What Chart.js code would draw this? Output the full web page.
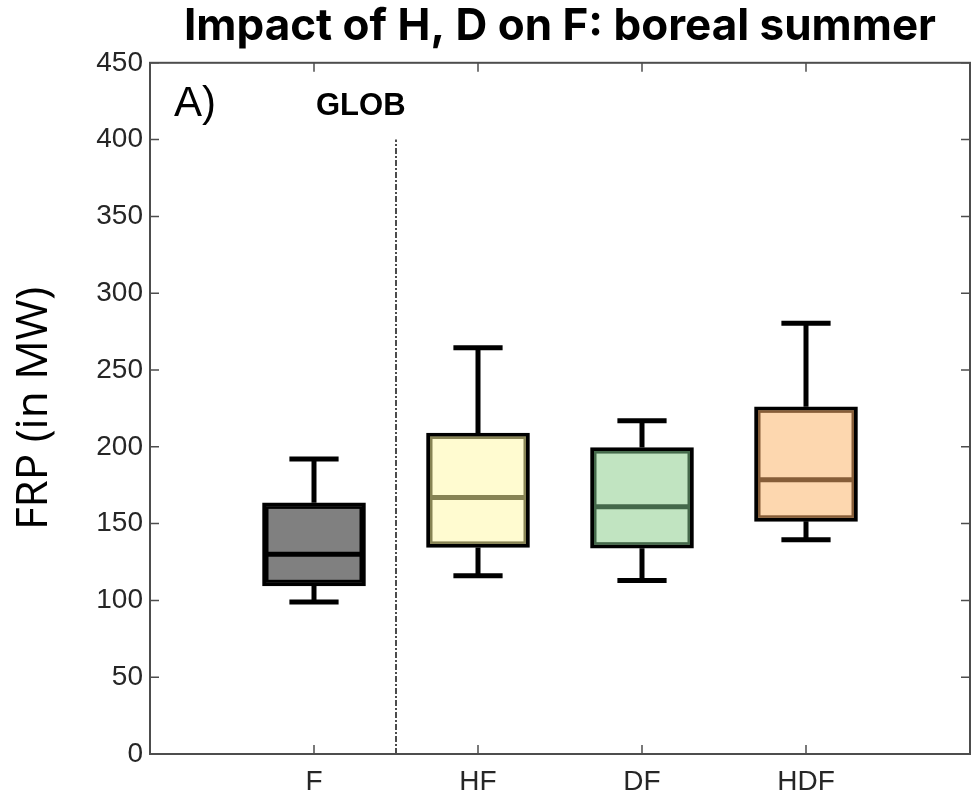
<!DOCTYPE html>
<html>
<head>
<meta charset="utf-8">
<script src="https://cdn.jsdelivr.net/npm/chart.js@4.4.1/dist/chart.umd.min.js"></script>
<style>
  html, body { margin: 0; padding: 0; background: #fff; }
  canvas { display: block; }
</style>
</head>
<body>
<canvas id="chart" width="973" height="793"></canvas>
<script>
// box plot stats (MW)
let categories = ["F", "HF", "DF", "HDF"];
let xPos = [1, 2, 3, 4];
let whiskerLow = [99, 116, 113, 139.5];
let q1 = [109.5, 134.5, 134, 151.5];
let median = [130, 167, 161, 178.5];
let q3 = [163.5, 209, 199.5, 226];
let whiskerHigh = [192, 264.5, 217, 280.5];
let fillColors = ["#808080", "#fffbd0", "#c1e4c1", "#fdd7af"];
let medianColors = ["#000000", "#878354", "#44684a", "#865d38"];
let yTicks = [0, 50, 100, 150, 200, 250, 300, 350, 400, 450];
let dividerX = 1.5;
let dividerTop = 400;

let boxData = xPos.map((x, i) => ({ x: x, y: [q1[i], q3[i]] }));

let boxPlotPlugin = {
    id: "boxPlot",
    afterDatasetsDraw(chart) {
        let ctx = chart.ctx;
        let xs = chart.scales.x;
        let ys = chart.scales.y;
        let meta = chart.getDatasetMeta(0);
        ctx.save();
        meta.data.forEach((bar, i) => {
            let props = bar.getProps(["x", "y", "base", "width"], true);
            let left = props.x - props.width / 2;
            let right = props.x + props.width / 2;
            let top = Math.min(props.y, props.base);
            let bottom = Math.max(props.y, props.base);

            // thin coloured line just inside the black border
            ctx.strokeStyle = medianColors[i];
            ctx.lineWidth = 2.5;
            ctx.strokeRect(left + 4.75, top + 4.75, right - left - 9.5, bottom - top - 9.5);

            // median
            let my = ys.getPixelForValue(median[i]);
            ctx.strokeStyle = medianColors[i];
            ctx.lineWidth = 5;
            ctx.beginPath();
            ctx.moveTo(left + 4, my);
            ctx.lineTo(right - 4, my);
            ctx.stroke();

            // whiskers
            let cx = xs.getPixelForValue(xPos[i]);
            let capL = xs.getPixelForValue(xPos[i] - 0.15);
            let capR = xs.getPixelForValue(xPos[i] + 0.15);
            let hi = ys.getPixelForValue(whiskerHigh[i]);
            let lo = ys.getPixelForValue(whiskerLow[i]);
            ctx.strokeStyle = "#000";
            ctx.lineWidth = 5;
            ctx.beginPath();
            ctx.moveTo(cx, top);
            ctx.lineTo(cx, hi);
            ctx.moveTo(capL, hi);
            ctx.lineTo(capR, hi);
            ctx.moveTo(cx, bottom);
            ctx.lineTo(cx, lo);
            ctx.moveTo(capL, lo);
            ctx.lineTo(capR, lo);
            ctx.stroke();
        });
        ctx.restore();
    },
    afterDraw(chart) {
        let ctx = chart.ctx;
        let a = chart.chartArea;
        let xs = chart.scales.x;
        let ys = chart.scales.y;
        ctx.save();
        // box frame with inward ticks on all sides
        ctx.strokeStyle = "#4d4d4d";
        ctx.lineWidth = 2;
        ctx.strokeRect(a.left, a.top, a.right - a.left, a.bottom - a.top);
        ctx.lineWidth = 1.5;
        ctx.beginPath();
        yTicks.forEach(v => {
            let y = ys.getPixelForValue(v);
            ctx.moveTo(a.left, y); ctx.lineTo(a.left + 9, y);
            ctx.moveTo(a.right, y); ctx.lineTo(a.right - 9, y);
        });
        xPos.forEach(v => {
            let x = xs.getPixelForValue(v);
            ctx.moveTo(x, a.bottom); ctx.lineTo(x, a.bottom - 9);
            ctx.moveTo(x, a.top); ctx.lineTo(x, a.top + 9);
        });
        ctx.stroke();

        // panel letter and region name
        ctx.fillStyle = "#000";
        ctx.textBaseline = "alphabetic";
        ctx.font = "42px 'Liberation Sans', Arial, sans-serif";
        ctx.fillText("A)", a.left + 24, a.top + 53);
        ctx.font = "bold 31px 'Liberation Sans', Arial, sans-serif";
        ctx.fillText("GLOB", a.left + 166, a.top + 52);
        ctx.restore();
    }
};

let chart = new Chart(document.getElementById("chart"), {
    type: "bar",
    data: {
        datasets: [{
            label: "IQR",
            data: boxData,
            backgroundColor: fillColors,
            borderColor: "#000",
            borderWidth: 4,
            borderSkipped: false,
            barThickness: 103
        }, {
            type: "line",
            label: "divider",
            data: [{ x: dividerX, y: 0 }, { x: dividerX, y: dividerTop }],
            borderColor: "#000",
            borderWidth: 1.4,
            borderDash: [6, 2, 2, 2],
            pointRadius: 0
        }]
    },
    plugins: [boxPlotPlugin],
    options: {
        responsive: false,
        animation: false,
        layout: { padding: { top: 0, right: 3, bottom: 0, left: 0 } },
        plugins: {
            legend: { display: false },
            tooltip: { enabled: false },
            title: {
                display: true,
                text: "Impact of H, D on F: boreal summer",
                fullSize: false,
                color: "#000",
                font: { family: "Inter", size: 44, weight: "bold", lineHeight: 1.2 },
                padding: { top: 0, bottom: 10 }
            }
        },
        scales: {
            x: {
                type: "linear",
                min: 0,
                max: 5,
                offset: false,
                grid: { display: false, drawTicks: false },
                border: { display: false },
                afterBuildTicks: s => { s.ticks = xPos.map(v => ({ value: v })); },
                afterFit: s => { s.height = 39; },
                ticks: {
                    callback: (v) => categories[xPos.indexOf(v)] || "",
                    color: "#262626",
                    font: { family: "'Liberation Sans', Arial", size: 28 },
                    padding: 11,
                    maxRotation: 0
                }
            },
            y: {
                min: 0,
                max: 450,
                grid: { display: false, drawTicks: false },
                border: { display: false },
                afterBuildTicks: s => { s.ticks = yTicks.map(v => ({ value: v })); },
                afterFit: s => { s.width = 150; },
                ticks: {
                    color: "#262626",
                    font: { family: "'Liberation Sans', Arial", size: 28 },
                    padding: 7
                },
                title: {
                    display: true,
                    text: "FRP (in MW)",
                    color: "#000",
                    font: { family: "'Open Sans'", size: 44 },
                    padding: { top: 8, bottom: 0 }
                }
            }
        }
    }
});
</script>
</body>
</html>
